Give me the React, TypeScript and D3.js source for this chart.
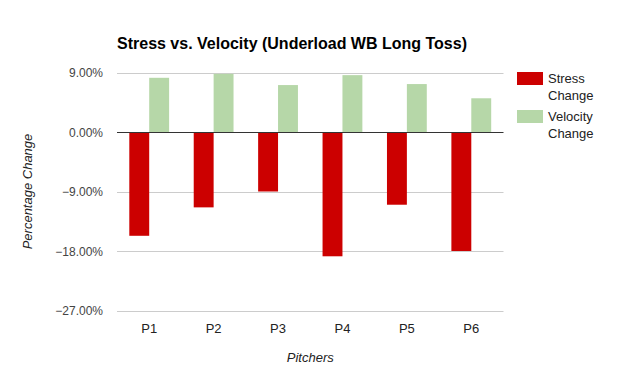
import React from "react";
import * as d3 from "d3";

const pitchers = ["P1", "P2", "P3", "P4", "P5", "P6"];
const stressChange = [-15.7, -11.4, -9.0, -18.8, -11.0, -18.0];
const velocityChange = [8.2, 8.8, 7.1, 8.6, 7.25, 5.1];
const yTicks = [9, 0, -9, -18, -27];
const seriesNames = ["Stress Change", "Velocity Change"];
const seriesColors = ["#cc0000", "#b6d7a8"];

const W = 620;
const H = 382;
const left = 117;
const right = 503.5;
const top = 72.5;
const bottom = 310.5;

export default function App() {
  const x = d3.scaleBand<string>().domain(pitchers).range([left, right]);
  const inner = d3
    .scaleBand<string>()
    .domain(["s", "v"])
    .range([0, x.bandwidth() * 0.618]);
  const y = d3.scaleLinear().domain([-27, 9]).range([bottom, top]);
  const font = "Arial, 'Liberation Sans', sans-serif";
  const off = (x.bandwidth() - x.bandwidth() * 0.618) / 2;

  return (
    <svg
      width={W}
      height={H}
      style={{ position: "absolute", left: 0, top: 0, background: "#fff" }}
      fontFamily={font}
    >
      <text x={117} y={49} fontSize={16} fontWeight="bold" fill="#000">
        Stress vs. Velocity (Underload WB Long Toss)
      </text>
      {yTicks.map((t) => (
        <g key={t}>
          {t !== 0 && (
            <line
              x1={left}
              x2={right}
              y1={Math.round(y(t)) + 0.5}
              y2={Math.round(y(t)) + 0.5}
              stroke="#cccccc"
            />
          )}
          <text
            x={103}
            y={y(t) + 4.5}
            textAnchor="end"
            fontSize={12}
            fill="#444"
          >
            {d3.format(".2f")(t) + "%"}
          </text>
        </g>
      ))}
      {pitchers.map((p, i) => (
        <g key={p}>
          <rect
            x={(x(p) as number) + off + (inner("s") as number)}
            width={inner.bandwidth()}
            y={y(0)}
            height={y(stressChange[i]) - y(0)}
            fill={seriesColors[0]}
          />
          <rect
            x={(x(p) as number) + off + (inner("v") as number)}
            width={inner.bandwidth()}
            y={y(velocityChange[i])}
            height={y(0) - y(velocityChange[i])}
            fill={seriesColors[1]}
          />
          <text
            x={(x(p) as number) + x.bandwidth() / 2}
            y={333}
            textAnchor="middle"
            fontSize={13}
            fill="#222"
          >
            {p}
          </text>
        </g>
      ))}
      <line
        x1={left}
        x2={right}
        y1={Math.round(y(0)) + 0.5}
        y2={Math.round(y(0)) + 0.5}
        stroke="#333333"
      />
      <text
        transform={`translate(32, ${(top + bottom) / 2}) rotate(-90)`}
        textAnchor="middle"
        fontSize={13}
        fontStyle="italic"
        fill="#222"
      >
        Percentage Change
      </text>
      <text
        x={(left + right) / 2}
        y={362}
        textAnchor="middle"
        fontSize={13}
        fontStyle="italic"
        fill="#222"
      >
        Pitchers
      </text>
      {seriesNames.map((n, i) => {
        const words = n.split(" ");
        const y0 = 72 + i * 38;
        return (
          <g key={n}>
            <rect x={517} y={y0} width={26} height={13} fill={seriesColors[i]} />
            {words.map((w, j) => (
              <text key={j} x={548} y={y0 + 11 + j * 17} fontSize={13} fill="#222">
                {w}
              </text>
            ))}
          </g>
        );
      })}
    </svg>
  );
}
